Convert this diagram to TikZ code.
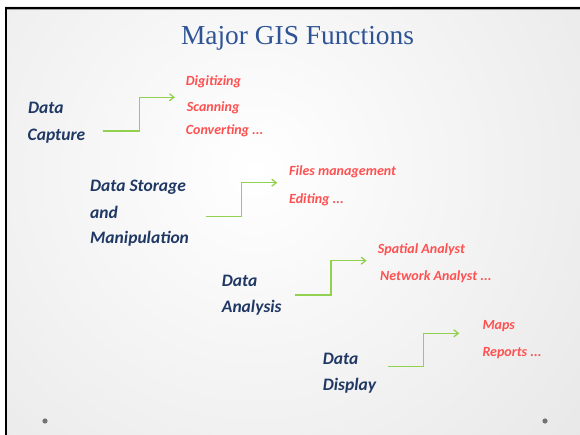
\documentclass[tikz,border=0pt]{standalone}
\usepackage{fontspec}
\setmainfont{Liberation Serif}
\newfontfamily\itemfont{Carlito}
\usetikzlibrary{arrows.meta,calc}
\definecolor{titleblue}{RGB}{46,84,150}
\definecolor{headblue}{RGB}{32,56,100}
\definecolor{itemred}{RGB}{255,80,80}
\definecolor{stepgreen}{RGB}{146,208,80}
\definecolor{edgegray}{RGB}{216,216,216}
\definecolor{dotgray}{RGB}{115,115,115}
\begin{document}
\begin{tikzpicture}[x=1pt,y=-1pt,
  head/.style={anchor=base west, inner sep=0pt, text=headblue,
    font=\itemfont\bfseries\itshape\fontsize{17.5}{20}\selectfont},
  item/.style={anchor=base west, inner sep=0pt, text=itemred,
    font=\itemfont\bfseries\itshape\fontsize{14}{16}\selectfont},
  link/.style={draw=stepgreen, line width=1.3pt,
    -{Straight Barb[length=4.5pt,width=7pt]}},
  bullet/.style={fill=dotgray, draw=none}]
  % page and slide background
  \useasboundingbox (0,0) rectangle (580,435);
  \fill[white] (0,0) rectangle (580,435);
  \begin{scope}
    \clip (5,7) rectangle (580,435);
    \shade[inner color=white, outer color=edgegray] (255,170) circle (720pt);
  \end{scope}
  \draw[black, line width=2pt] (5,7.7) -- (580,7.7);
  \draw[black!35, line width=1pt] (7,9.4) -- (580,9.4);
  \draw[black, line width=2pt] (6.2,6.7) -- (6.2,435);
  \fill[bullet] (45,421) circle (2.6pt);
  \fill[bullet] (545,421) circle (2.6pt);

  % title
  \node[anchor=base, inner sep=0pt, text=titleblue,
    font=\fontsize{27.4}{30}\selectfont] (title) at (297.5,44.3) {Major GIS Functions};

  % data capture
  \node[head] (capA) at (28,113.3) {Data};
  \node[head] (capB) at (27.5,140.7) {Capture};
  \node[item] (capI1) at (185.7,86) {Digitizing};
  \node[item] (capI2) at (186.7,111.7) {Scanning};
  \node[item] (capI3) at (185.7,135) {Converting ...};
  \coordinate (capS) at (103.3,131);
  \coordinate (capE) at (175,97.3);
  \draw[link] (capS) -| ($(capS)!0.5!(capE)$) |- (capE);

  % data storage and manipulation
  \node[head] (stoA) at (90,191.7) {Data Storage};
  \node[head] (stoB) at (90,218.3) {and};
  \node[head] (stoC) at (90,243.3) {Manipulation};
  \node[item] (stoI1) at (289,176) {Files management};
  \node[item] (stoI2) at (289,203.3) {Editing ...};
  \coordinate (stoS) at (206,216.7);
  \coordinate (stoE) at (277.3,182.7);
  \draw[link] (stoS) -| ($(stoS)!0.5!(stoE)$) |- (stoE);

  % data analysis
  \node[head] (anaA) at (221.7,286.7) {Data};
  \node[head] (anaB) at (221.7,312.7) {Analysis};
  \node[item] (anaI1) at (377.7,254) {Spatial Analyst};
  \node[item] (anaI2) at (380,280.7) {Network Analyst ...};
  \coordinate (anaS) at (295,295);
  \coordinate (anaE) at (366.7,260.7);
  \draw[link] (anaS) -| ($(anaS)!0.5!(anaE)$) |- (anaE);

  % data display
  \node[head] (disA) at (322.7,364.3) {Data};
  \node[head] (disB) at (322.7,390) {Display};
  \node[item] (disI1) at (482.3,329) {Maps};
  \node[item] (disI2) at (482.3,356.7) {Reports ...};
  \coordinate (disS) at (388.3,366.7);
  \coordinate (disE) at (459.3,333.3);
  \draw[link] (disS) -| ($(disS)!0.5!(disE)$) |- (disE);
\end{tikzpicture}
\end{document}
